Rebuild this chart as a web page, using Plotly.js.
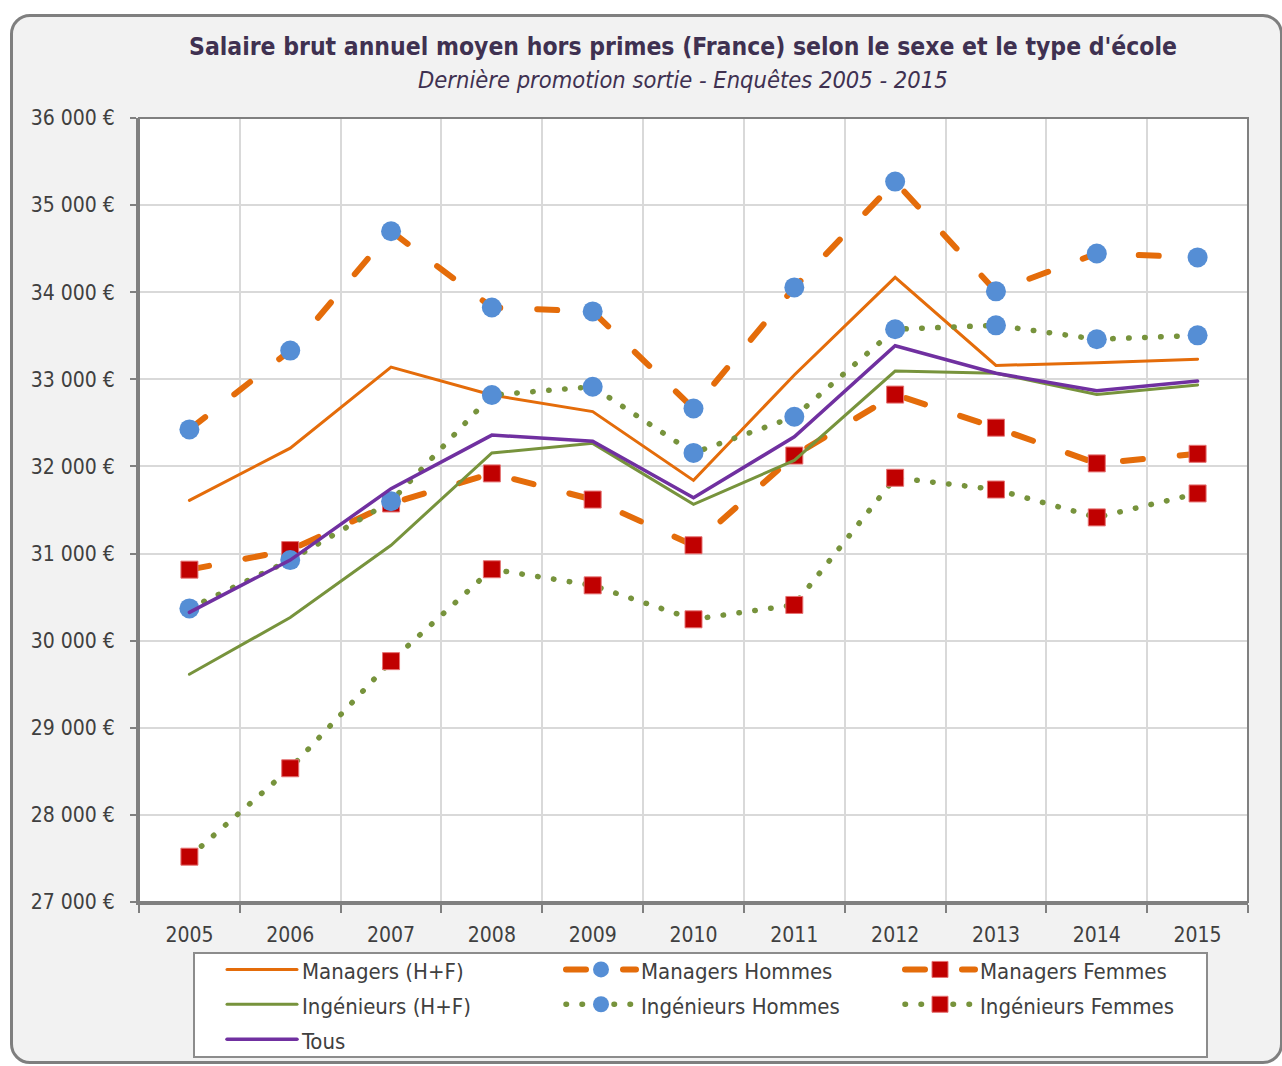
<!DOCTYPE html>
<html>
<head>
<meta charset="utf-8">
<script src="https://cdn.plot.ly/plotly-3.0.1.min.js"></script>
<style>
  html, body { margin: 0; padding: 0; background: #ffffff; }
  #frame { position: absolute; left: 10px; top: 14px; width: 1273px; height: 1050px;
           box-sizing: border-box; border: 3px solid #7f7f7f; border-radius: 20px; background: #f2f2f2; }
  #chart { position: absolute; left: 0; top: 0; width: 1282px; height: 1066px; }
  .js-line { stroke-linecap: round; }
</style>
</head>
<body>
<div id="frame"></div>
<div id="chart"></div>
<script>
const years = ['2005','2006','2007','2008','2009','2010','2011','2012','2013','2014','2015'];
const managersHF       = [31610, 32210, 33140, 32820, 32630, 31840, 33050, 34170, 33160, 33190, 33230];
const managersHommes   = [32425, 33330, 34700, 33825, 33780, 32665, 34055, 35270, 34010, 34445, 34400];
const managersFemmes   = [30815, 31040, 31575, 31920, 31620, 31095, 32125, 32825, 32445, 32035, 32145];
const ingenieursHF     = [29615, 30265, 31095, 32155, 32265, 31565, 32070, 33095, 33070, 32825, 32935];
const ingenieursHommes = [30370, 30925, 31600, 32820, 32915, 32155, 32570, 33575, 33620, 33460, 33505];
const ingenieursFemmes = [27520, 28535, 29765, 30820, 30635, 30245, 30410, 31870, 31735, 31415, 31690];
const tous             = [30325, 30925, 31745, 32360, 32290, 31640, 32340, 33385, 33070, 32870, 32980];

const seriesNames = ['Managers (H+F)', 'Managers Hommes', 'Managers Femmes',
                     'Ingénieurs (H+F)', 'Ingénieurs Hommes', 'Ingénieurs Femmes', 'Tous'];

const ORANGE = '#e46c0a', GREEN = '#77933c', PURPLE = '#7030a0', BLUE = '#558ed5', RED = '#c00000';
const DASH = '20px,37px', DOT = '0.5px,15.5px';
const circle = {symbol: 'circle', size: 20, color: BLUE, line: {width: 0}};
const square = {symbol: 'square', size: 17, color: RED, line: {width: 1, color: '#e57373'}};
const legendLabel = s => '<span style="font-size:22px">' + s + '</span>';

const traces = [
  {y: managersHF,       name: seriesNames[0], mode: 'lines', line: {color: ORANGE, width: 3}},
  {y: managersHommes,   name: seriesNames[1], mode: 'lines+markers', line: {color: ORANGE, width: 6, dash: DASH}, marker: circle},
  {y: managersFemmes,   name: seriesNames[2], mode: 'lines+markers', line: {color: ORANGE, width: 6, dash: DASH}, marker: square},
  {y: ingenieursHF,     name: seriesNames[3], mode: 'lines', line: {color: GREEN, width: 3}},
  {y: ingenieursHommes, name: seriesNames[4], mode: 'lines+markers', line: {color: GREEN, width: 5.5, dash: DOT}, marker: circle},
  {y: ingenieursFemmes, name: seriesNames[5], mode: 'lines+markers', line: {color: GREEN, width: 5.5, dash: DOT}, marker: square},
  {y: tous,             name: seriesNames[6], mode: 'lines', line: {color: PURPLE, width: 3.5}}
].map(t => Object.assign({x: years, type: 'scatter', hoverinfo: 'skip'}, t, {name: legendLabel(t.name)}));

const FONT = '"Liberation Sans Narrow", "Arial Narrow", "DejaVu Sans Condensed", sans-serif';

// pixel helpers for paper coordinates (plot area 139..1248 x 118..902)
const PL = 139, PR = 1248, PT = 118, PB = 902;
const px2x = p => (p - PL) / (PR - PL);
const px2y = p => (PB - p) / (PB - PT);

const layout = {
  width: 1282, height: 1066,
  margin: {l: PL, r: 1282 - PR, t: PT, b: 1066 - PB, autoexpand: false},
  paper_bgcolor: 'rgba(0,0,0,0)',
  plot_bgcolor: '#ffffff',
  separators: ', ',
  font: {family: FONT, color: '#404040', size: 20},
  title: {
    text: "<b>Salaire brut annuel moyen hors primes (France) selon le sexe et le type d'école</b>",
    font: {family: FONT, size: 24.5, color: '#3f3151'},
    x: 683 / 1282, xanchor: 'center', xref: 'container',
    y: 1 - 46 / 1066, yanchor: 'middle', yref: 'container'
  },
  annotations: [{
    text: '<i>Dernière promotion sortie - Enquêtes 2005 - 2015</i>',
    xref: 'paper', yref: 'paper', x: px2x(683), y: px2y(80),
    xanchor: 'center', yanchor: 'middle', showarrow: false,
    font: {family: FONT, size: 23.5, color: '#3f3151'}
  }],
  xaxis: {
    type: 'category', tickson: 'boundaries', range: [-0.5, 10.5],
    ticks: 'outside', ticklen: 8, tickwidth: 2, tickcolor: '#808080',
    showgrid: true, gridcolor: '#d9d9d9', gridwidth: 2,
    showline: true, linecolor: '#808080', linewidth: 3,
    tickfont: {size: 21, color: '#404040'}, ticklabelstandoff: 12,
    zeroline: false, fixedrange: true
  },
  yaxis: {
    range: [27000, 36000], dtick: 1000, tick0: 27000,
    tickformat: ',d', exponentformat: 'none',
    ticks: 'outside', ticklen: 6, tickwidth: 2, tickcolor: '#808080',
    showgrid: true, gridcolor: '#d9d9d9', gridwidth: 2,
    showline: true, linecolor: '#808080', linewidth: 3,
    ticksuffix: ' €', tickfont: {size: 21, color: '#404040'}, ticklabelstandoff: 11,
    zeroline: false, fixedrange: true
  },
  shapes: [
    {type: 'rect', xref: 'paper', yref: 'paper', x0: 0, x1: 1, y0: 0, y1: 1,
     line: {color: '#808080', width: 2}, layer: 'above'},
    {type: 'rect', xref: 'paper', yref: 'paper',
     x0: px2x(194), x1: px2x(1207), y0: px2y(1057), y1: px2y(953),
     fillcolor: '#ffffff', line: {color: '#8c8c8c', width: 2}, layer: 'below'}
  ],
  showlegend: true,
  legend: {
    orientation: 'h', x: px2x(222), xanchor: 'left', y: px2y(947), yanchor: 'top',
    bgcolor: 'rgba(0,0,0,0)', borderwidth: 0,
    font: {family: FONT, size: 24.5, color: '#404040'},
    entrywidth: 254, entrywidthmode: 'pixels', itemwidth: 70,
    traceorder: 'normal'
  }
};

Plotly.newPlot('chart', traces, layout, {staticPlot: true});
</script>
</body>
</html>
